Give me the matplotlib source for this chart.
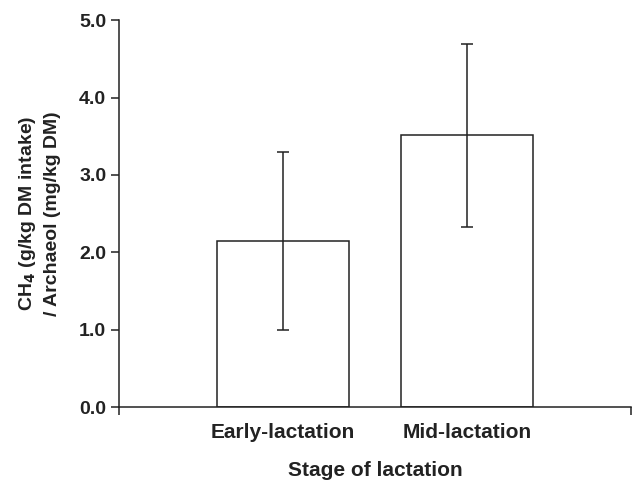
import matplotlib
matplotlib.use("Agg")
import matplotlib.pyplot as plt

categories = ["Early-lactation", "Mid-lactation"]
values = [2.15, 3.51]
errors = [1.15, 1.18]
yticks = [0.0, 1.0, 2.0, 3.0, 4.0, 5.0]

plt.rcParams['font.family'] = ['Liberation Sans', 'DejaVu Sans']
plt.rcParams['font.weight'] = 'bold'

fig = plt.figure(figsize=(6.35, 4.8), dpi=100)
ax = fig.add_axes([0.187, 0.152, 0.807, 0.806])

x = list(range(len(categories)))
ax.bar(x, values, width=0.715, color='white', edgecolor='#222222', linewidth=1.1,
       yerr=errors, capsize=4,
       error_kw=dict(ecolor='#222222', elinewidth=1.1, capthick=1.1))

ax.set_xlim(-0.89, 1.89)
ax.set_ylim(0, 5.0)
ax.set_yticks(yticks)
ax.set_yticklabels([f"{v:.1f}" for v in yticks], fontsize=14, fontweight='bold', color='#222222')
ax.set_xticks([-0.89, 1.89], minor=False)
ax.set_xticklabels(["", ""])
for i, c in enumerate(categories):
    ax.text(i, -0.2, c, ha='center', va='top', fontsize=15, fontweight='bold',
            color='#222222', transform=ax.transData)

ax.spines['top'].set_visible(False)
ax.spines['right'].set_visible(False)
for s in ['left', 'bottom']:
    ax.spines[s].set_linewidth(1.1)
    ax.spines[s].set_color('#222222')
ax.tick_params(axis='both', direction='out', length=6, width=1.1, color='#222222', pad=3)
ax.spines['left'].set_bounds(0, 5.0)

ax.set_xlabel("Stage of lactation", fontsize=15, fontweight='bold', color='#222222', labelpad=30)
ax.set_ylabel("CH$_\\mathbf{4}$ (g/kg DM intake)\n/ Archaeol (mg/kg DM)", fontsize=14,
              fontweight='bold', color='#222222', labelpad=13, linespacing=1.45)

fig.savefig("out.png", dpi=100)
